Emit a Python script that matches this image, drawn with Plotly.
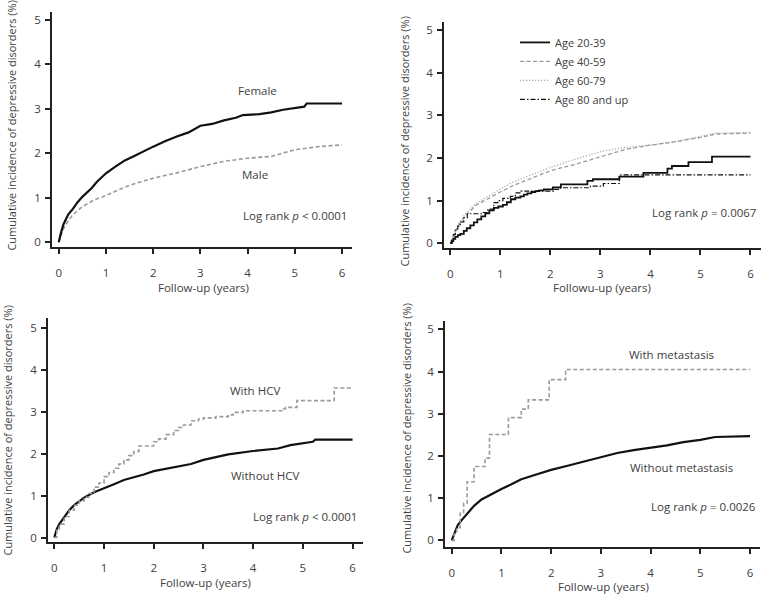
import plotly.graph_objects as go

# ---------------- data ----------------
# Panel A: sex
t_female = [0, 0.02, 0.05, 0.1, 0.15, 0.2, 0.3, 0.4, 0.5, 0.6, 0.7, 0.8, 0.9, 1.0, 1.2, 1.4, 1.6, 1.8, 2.0,
            2.25, 2.5, 2.75, 3.0, 3.25, 3.5, 3.75, 3.9, 4.25, 4.5, 4.75, 5.0, 5.2, 5.25, 6.0]
female = [0, 0.1, 0.22, 0.4, 0.52, 0.62, 0.75, 0.9, 1.02, 1.12, 1.22, 1.35, 1.45, 1.55, 1.7, 1.84, 1.94, 2.05, 2.15,
          2.27, 2.38, 2.47, 2.62, 2.66, 2.74, 2.8, 2.86, 2.88, 2.92, 2.98, 3.02, 3.05, 3.12, 3.12]
t_male = [0, 0.02, 0.05, 0.1, 0.2, 0.3, 0.4, 0.5, 0.75, 1.0, 1.25, 1.5, 1.75, 2.0, 2.5, 3.0, 3.5, 4.0, 4.5,
          4.75, 5.0, 5.5, 6.0]
male = [0, 0.05, 0.15, 0.3, 0.48, 0.62, 0.72, 0.8, 0.95, 1.05, 1.17, 1.28, 1.36, 1.44, 1.56, 1.7, 1.82, 1.89, 1.93,
        2.0, 2.08, 2.15, 2.19]

# Panel B: age groups
t_age = [0, 0.05, 0.1, 0.2, 0.3, 0.5, 0.75, 1.0, 1.25, 1.5, 2.0, 2.5, 3.0, 3.5, 4.0, 4.5, 5.0, 5.3, 6.0]
age_40_59 = [0, 0.15, 0.28, 0.48, 0.63, 0.88, 1.05, 1.2, 1.35, 1.47, 1.7, 1.85, 2.02, 2.2, 2.3, 2.38, 2.48, 2.56, 2.58]
age_60_79 = [0, 0.17, 0.3, 0.52, 0.68, 0.92, 1.1, 1.27, 1.43, 1.55, 1.78, 1.97, 2.15, 2.25, 2.3, 2.38, 2.5, 2.58, 2.6]
t_age_20_39 = [0, 0.03, 0.06, 0.1, 0.15, 0.2, 0.27, 0.33, 0.4, 0.47, 0.54, 0.62, 0.7, 0.78, 0.87, 0.96, 1.05,
               1.13, 1.21, 1.3, 1.4, 1.47, 1.54, 1.62, 1.7, 1.78, 1.87, 2.05, 2.21, 2.74, 2.85, 3.38, 3.86,
               4.34, 4.43, 4.76, 5.23, 6.0]
age_20_39 = [0, 0.05, 0.1, 0.15, 0.19, 0.22, 0.29, 0.35, 0.42, 0.49, 0.56, 0.63, 0.7, 0.77, 0.83, 0.86, 0.9,
             0.96, 1.03, 1.07, 1.1, 1.14, 1.17, 1.2, 1.22, 1.24, 1.26, 1.31, 1.38, 1.46, 1.5, 1.56, 1.65,
             1.75, 1.81, 1.9, 2.03, 2.03]
t_age_80 = [0, 0.03, 0.06, 0.1, 0.15, 0.2, 0.27, 0.34, 0.62, 0.75, 0.87, 0.95, 1.05, 1.2, 1.3, 1.41, 2.07, 2.2,
            2.8, 3.06, 3.38, 6.0]
age_80 = [0, 0.1, 0.2, 0.3, 0.4, 0.5, 0.6, 0.69, 0.72, 0.8, 0.95, 1.0, 1.05, 1.1, 1.18, 1.22, 1.26, 1.3,
          1.34, 1.4, 1.6, 1.6]

# Panel C: HCV
t_without_hcv = [0, 0.05, 0.1, 0.2, 0.3, 0.4, 0.5, 0.6, 0.8, 1.0, 1.2, 1.4, 1.6, 1.8, 2.0, 2.5, 2.75, 3.0, 3.5,
                 4.0, 4.5, 4.75, 5.0, 5.2, 5.25, 6.0]
without_hcv = [0, 0.2, 0.32, 0.5, 0.65, 0.77, 0.87, 0.95, 1.08, 1.17, 1.27, 1.37, 1.43, 1.5, 1.58, 1.7, 1.75,
               1.85, 1.98, 2.06, 2.12, 2.2, 2.25, 2.28, 2.33, 2.33]
t_with_hcv = [0, 0.05, 0.1, 0.2, 0.3, 0.4, 0.5, 0.6, 0.7, 0.8, 0.9, 1.0, 1.1, 1.2, 1.3, 1.4, 1.5, 1.6, 1.7,
              2.0, 2.1, 2.25, 2.4, 2.5, 2.6, 2.75, 2.9, 3.0, 3.25, 3.5, 3.6, 3.8, 4.61, 4.65, 4.88, 5.63, 6.0]
with_hcv = [0, 0.2, 0.32, 0.5, 0.65, 0.77, 0.87, 0.96, 1.05, 1.2, 1.3, 1.45, 1.55, 1.65, 1.75, 1.85, 1.95,
            2.05, 2.18, 2.28, 2.35, 2.45, 2.55, 2.62, 2.68, 2.78, 2.82, 2.85, 2.88, 2.92, 2.98, 3.02, 3.06,
            3.1, 3.26, 3.56, 3.56]

# Panel D: metastasis
t_without_met = [0, 0.03, 0.06, 0.12, 0.2, 0.3, 0.45, 0.6, 0.8, 1.0, 1.2, 1.4, 1.7, 2.0, 2.33, 2.66, 3.0, 3.33,
                 3.66, 4.0, 4.33, 4.66, 5.0, 5.3, 6.0]
without_met = [0, 0.1, 0.2, 0.36, 0.48, 0.62, 0.82, 0.97, 1.1, 1.22, 1.33, 1.45, 1.56, 1.67, 1.77, 1.87, 1.98,
               2.07, 2.14, 2.2, 2.25, 2.33, 2.38, 2.45, 2.47]
t_with_met = [0, 0.05, 0.1, 0.17, 0.24, 0.31, 0.45, 0.67, 0.76, 1.14, 1.40, 1.54, 1.96, 2.29, 6.0]
with_met = [0, 0.15, 0.3, 0.64, 0.88, 1.39, 1.75, 1.95, 2.51, 2.91, 3.11, 3.33, 3.81, 4.05, 4.05]

x_ticks = [0, 1, 2, 3, 4, 5, 6]
y_ticks = [0, 1, 2, 3, 4, 5]

y_title = "Cumulative incidence of depressive disorders (%)"
x_titles = ["Follow-up (years)", "Followu-up (years)", "Follow-up (years)", "Follow-up (years)"]

# ---------------- figure ----------------
W, H = 764, 596
FONT = "Open Sans"
TXT = "#404040"
BLACK = "#111111"
GRAY = "#9a9a9a"
DASH = "4px,2.5px"
DOT = "1.2px,1.8px"
DASHDOT = "5px,2px,1.5px,2px"

fig = go.Figure()

panels = [
    dict(xa="x", ya="y", l=52, r=352, t=12, b=248, xr=[-0.142, 6.21], yr=[-0.112, 5.18]),
    dict(xa="x2", ya="y2", l=444, r=761, t=22, b=249, xr=[-0.126, 6.21], yr=[-0.117, 5.19]),
    dict(xa="x3", ya="y3", l=48, r=363, t=319, b=544, xr=[-0.127, 6.21], yr=[-0.111, 5.23]),
    dict(xa="x4", ya="y4", l=445, r=760, t=322, b=549, xr=[-0.135, 6.2], yr=[-0.16, 5.2]),
]

def add(t, v, p, color, width, dash, shape="hv", name=None, legend=False):
    fig.add_trace(go.Scatter(x=t, y=v, mode="lines", xaxis=p["xa"], yaxis=p["ya"],
                             line=dict(color=color, width=width, dash=dash, shape=shape),
                             name=name, showlegend=legend, hoverinfo="skip"))

A, B, C, D = panels
add(t_male, male, A, GRAY, 1.6, DASH, shape="linear")
add(t_female, female, A, BLACK, 2.2, "solid", shape="linear")

add(t_age, age_60_79, B, "#a8a8a8", 1.3, DOT, shape="linear")
add(t_age, age_40_59, B, GRAY, 1.3, DASH, shape="linear")
add(t_age_20_39, age_20_39, B, BLACK, 1.8, "solid")
add(t_age_80, age_80, B, BLACK, 1.2, DASHDOT)

add(t_without_hcv, without_hcv, C, BLACK, 2.2, "solid", shape="linear")
add(t_with_hcv, with_hcv, C, GRAY, 1.6, DASH, shape="hv")

add(t_without_met, without_met, D, BLACK, 2.2, "solid", shape="linear")
add(t_with_met, with_met, D, GRAY, 1.6, DASH)

legend_items = [("Age 20-39", BLACK, 1.8, "solid"), ("Age 40-59", GRAY, 1.3, DASH),
                ("Age 60-79", "#a8a8a8", 1.3, DOT), ("Age 80 and up", BLACK, 1.2, DASHDOT)]
for nm, col, w, ds in legend_items:
    fig.add_trace(go.Scatter(x=[None], y=[None], mode="lines", xaxis="x2", yaxis="y2",
                             line=dict(color=col, width=w, dash=ds), name=nm, showlegend=True))

layout = dict(width=W, height=H, margin=dict(l=0, r=0, t=0, b=0),
              paper_bgcolor="white", plot_bgcolor="white",
              font=dict(family=FONT, size=11, color=TXT),
              legend=dict(x=515 / W, y=1 - 28 / H, xanchor="left", yanchor="top",
                          bgcolor="rgba(0,0,0,0)", font=dict(size=11, color=TXT),
                          tracegroupgap=0))

for i, p in enumerate(panels):
    sfx = "" if i == 0 else str(i + 1)
    common = dict(showline=True, linecolor="#222222", linewidth=1.5, showgrid=False,
                  zeroline=False, ticks="outside", ticklen=5, tickwidth=1.5,
                  tickcolor="#222222", tickfont=dict(size=11.5, color=TXT), fixedrange=True)
    layout["xaxis" + sfx] = dict(domain=[p["l"] / W, p["r"] / W], range=p["xr"], anchor=p["ya"],
                                 tickvals=x_ticks, ticklabelstandoff=9, **common)
    layout["yaxis" + sfx] = dict(domain=[1 - p["b"] / H, 1 - p["t"] / H], range=p["yr"], anchor=p["xa"],
                                 tickvals=y_ticks, ticklabelstandoff=2, **common)

fig.update_layout(**layout)

ytitle_pos = [(12, 126), (405, 142), (8, 432), (407, 430)]
xtitle_pos = [(203, 288), (602, 288), (206, 584), (603, 588)]
for (xp, yp) in ytitle_pos:
    fig.add_annotation(text=y_title, x=xp / W, y=1 - yp / H, xref="paper", yref="paper",
                       textangle=-90, showarrow=False, xanchor="center", yanchor="middle",
                       font=dict(size=11, color=TXT))
for (xp, yp), txt in zip(xtitle_pos, x_titles):
    fig.add_annotation(text=txt, x=xp / W, y=1 - yp / H, xref="paper", yref="paper",
                       showarrow=False, xanchor="center", yanchor="middle",
                       font=dict(size=11.5, color=TXT))

labels = [
    ("x", "y", 4.2, 3.41, "Female"),
    ("x", "y", 4.16, 1.52, "Male"),
    ("x", "y", 5.0, 0.59, "Log rank <i>p</i> < 0.0001"),
    ("x2", "y2", 5.07, 0.72, "Log rank <i>p</i> = 0.0067"),
    ("x3", "y3", 4.04, 3.50, "With HCV"),
    ("x3", "y3", 4.24, 1.48, "Without HCV"),
    ("x3", "y3", 5.05, 0.51, "Log rank <i>p</i> < 0.0001"),
    ("x4", "y4", 4.42, 4.41, "With metastasis"),
    ("x4", "y4", 4.62, 1.73, "Without metastasis"),
    ("x4", "y4", 5.07, 0.80, "Log rank <i>p</i> = 0.0026"),
]
for xr, yr, xv, yv, txt in labels:
    fig.add_annotation(text=txt, x=xv, y=yv, xref=xr, yref=yr, showarrow=False,
                       xanchor="center", yanchor="middle", font=dict(size=11.5, color=TXT))

fig.write_html("out.html", config={"displayModeBar": False},
               post_script="document.body.style.margin='0';document.body.style.overflow='hidden';")
